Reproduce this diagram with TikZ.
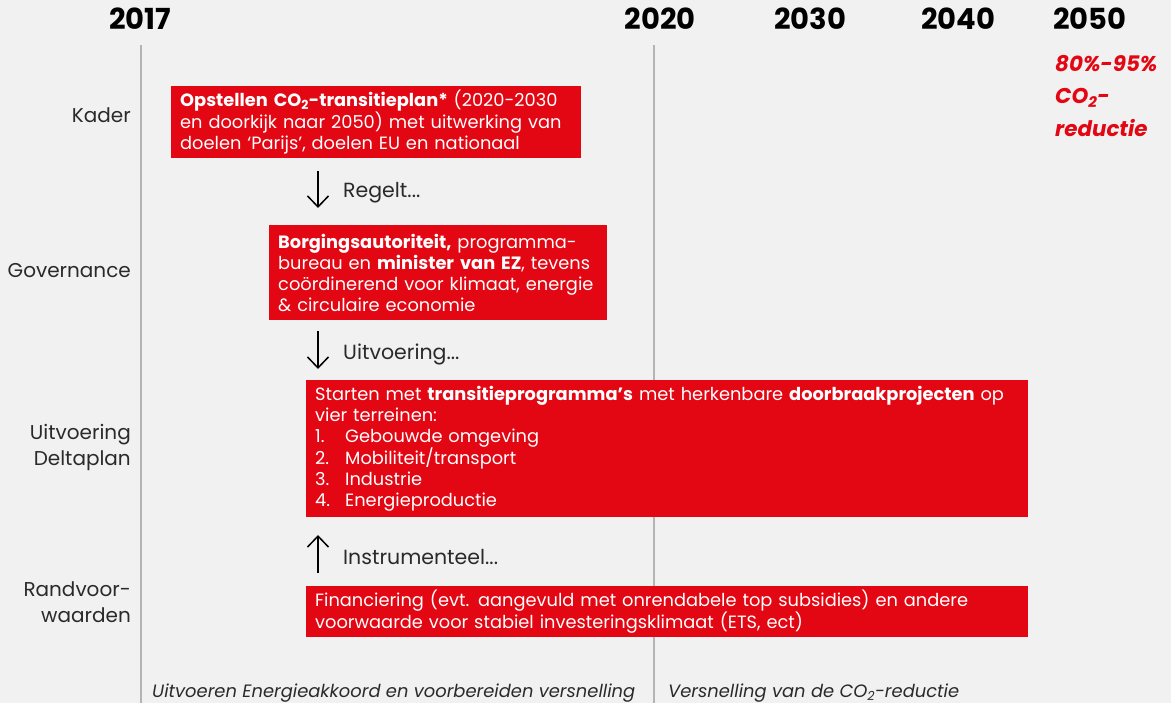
\documentclass[tikz,border=0pt]{standalone}
\usepackage{fontspec}
\setmainfont{Poppins}
\usetikzlibrary{arrows.meta}
\definecolor{bg}{HTML}{F1F1F1}
\definecolor{dred}{HTML}{E30613}
\definecolor{lgrey}{HTML}{B4B4B4}
\definecolor{txt}{HTML}{2A2A2A}
\tikzset{
  redbox/.style={fill=dred, text=white, anchor=north west, align=left, inner xsep=9pt, inner ysep=0pt, font=\fontsize{17.8}{21}\selectfont},
  year/.style={font=\fontsize{29}{30}\selectfont\bfseries, anchor=center, inner sep=0pt},
  rowlabel/.style={font=\fontsize{20}{26}\selectfont, anchor=east, align=right, text=txt, inner sep=0pt},
  steparrow/.style={-{Straight Barb[length=11pt,width=21pt]}, line width=1.5pt},
  steplabel/.style={font=\fontsize{20.5}{21}\selectfont, anchor=west, text=txt, inner sep=0pt},
  axis/.style={lgrey, line width=2pt},
  phase/.style={font=\fontsize{17.9}{20}\selectfont\itshape, anchor=west, text=txt, inner sep=0pt}
}
\begin{document}
\begin{tikzpicture}[x=1pt,y=-1pt]
\fill[bg] (0,0) rectangle (1171,703);
\useasboundingbox (0,0) rectangle (1171,703);
% axes
\coordinate (a1t) at (141,45); \coordinate (a1b) at (141,703);
\coordinate (a2t) at (654,45); \coordinate (a2b) at (654,703);
\draw[axis] (a1t) -- (a1b);
\draw[axis] (a2t) -- (a2b);
% years
\node[year] (y2017) at (140,19) {2017};
\node[year] (y2020) at (660,19) {2020};
\node[year] (y2030) at (810,19) {2030};
\node[year] (y2040) at (958,19) {2040};
\node[year] (y2050) at (1090,19) {2050};
\node[anchor=north west, align=left, text=dred, inner sep=0pt, font=\fontsize{21.4}{32.5}\selectfont\bfseries\itshape] (goal) at (1055,55) {80\%-95\%\\CO\textsubscript{2}-\\reductie};
% row labels
\node[rowlabel] (kader) at (131,115) {Kader};
\node[rowlabel] (gov) at (131,271) {Governance};
\node[rowlabel] (uitv) at (131,447) {Uitvoering\\Deltaplan};
\node[rowlabel] (rand) at (131,602) {Randvoor-\\waarden};
% boxes
\node[redbox, text width=392pt, minimum height=72pt] (b1) at (171,86)
{\textbf{Opstellen CO\textsubscript{2}-transitieplan*} (2020-2030\\en doorkijk naar 2050) met uitwerking van\\doelen ‘Parijs’, doelen EU en nationaal};
\node[redbox, text width=320pt, minimum height=95pt] (b2) at (269,225)
{\textbf{Borgingsautoriteit,} programma-\\bureau en \textbf{minister van EZ}, tevens\\coördinerend voor klimaat, energie\\\& circulaire economie};
\node[redbox, text width=704pt, minimum height=137pt] (b3) at (306,380)
{Starten met \textbf{transitieprogramma’s} met herkenbare \textbf{doorbraakprojecten} op\\vier terreinen:\\\makebox[30pt][l]{1.}Gebouwde omgeving\\\makebox[30pt][l]{2.}Mobiliteit/transport\\\makebox[30pt][l]{3.}Industrie\\\makebox[30pt][l]{4.}Energieproductie};
\node[redbox, text width=704pt, minimum height=51pt] (b4) at (306,586)
{Financiering (evt. aangevuld met onrendabele top subsidies) en andere\\voorwaarde voor stabiel investeringsklimaat (ETS, ect)};
% step arrows
\coordinate (s1a) at (318,171); \coordinate (s1b) at (318,208);
\coordinate (s2a) at (318,331); \coordinate (s2b) at (318,369);
\coordinate (s3a) at (318,573); \coordinate (s3b) at (318,535);
\draw[steparrow] (s1a) -- (s1b);
\draw[steparrow] (s2a) -- (s2b);
\draw[steparrow] (s3a) -- (s3b);
\node[steplabel] (l1) at (343,193) {Regelt...};
\node[steplabel] (l2) at (343,354) {Uitvoering...};
\node[steplabel] (l3) at (343,557) {Instrumenteel...};
% phases
\node[phase] (p1) at (152,693) {Uitvoeren Energieakkoord en voorbereiden versnelling};
\node[phase] (p2) at (668,693) {Versnelling van de CO\textsubscript{2}-reductie};
\end{tikzpicture}
\end{document}
